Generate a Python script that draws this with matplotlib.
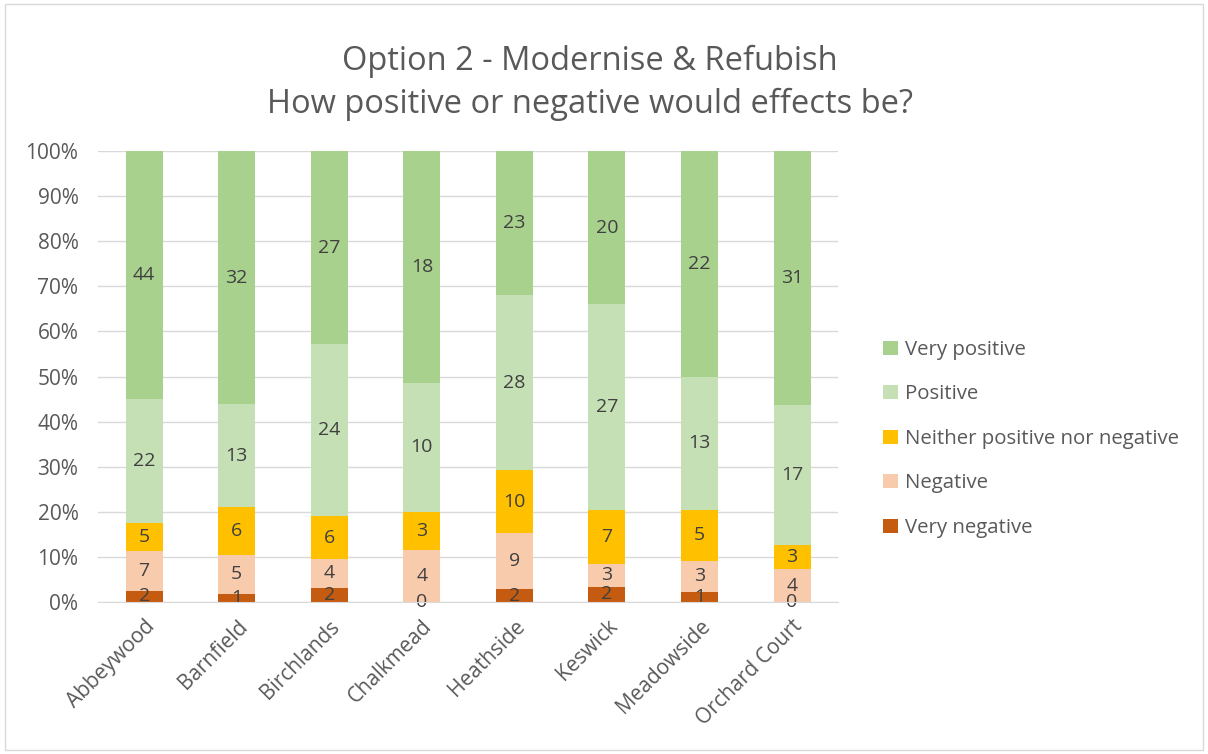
import matplotlib
matplotlib.use('Agg')
import matplotlib.pyplot as plt
import matplotlib.patches as patches
import numpy as np

plt.rcParams['font.family'] = ['Open Sans', 'DejaVu Sans']

sitios = ['Abbeywood', 'Barnfield', 'Birchlands', 'Chalkmead',
          'Heathside', 'Keswick', 'Meadowside', 'Orchard Court']
categorias = ['Very negative', 'Negative', 'Neither positive nor negative',
              'Positive', 'Very positive']
muy_negativo = [2, 1, 2, 0, 2, 2, 1, 0]
negativo = [7, 5, 4, 4, 9, 3, 3, 4]
neutral = [5, 6, 6, 3, 10, 7, 5, 3]
positivo = [22, 13, 24, 10, 28, 27, 13, 17]
muy_positivo = [44, 32, 27, 18, 23, 20, 22, 31]
colores = ['#C55A11', '#F8CBAD', '#FFC000', '#C5E0B4', '#A9D18E']

texto = '#595959'
series = np.array([muy_negativo, negativo, neutral, positivo, muy_positivo], dtype=float)
totales = series.sum(axis=0)
porcentajes = series / totales * 100

fig = plt.figure(figsize=(12.08, 7.54), dpi=100)
fig.patches.append(patches.Rectangle((0.004, 0.005), 0.992, 0.99, transform=fig.transFigure,
                                     fill=False, edgecolor='#D9D9D9', linewidth=1))
ax = fig.add_axes([0.081, 0.2016, 0.613, 0.598])

x = np.arange(len(sitios))
base = np.zeros(len(sitios))
for i, cat in enumerate(categorias):
    ax.bar(x, porcentajes[i], bottom=base, width=0.4, color=colores[i],
           label=cat, zorder=3)
    for j in range(len(sitios)):
        y = base[j] + porcentajes[i][j] / 2
        ax.text(x[j], y, f'{int(series[i][j])}', ha='center', va='center',
                fontsize=14, color='#404040', zorder=4)
    base += porcentajes[i]

ax.set_xlim(-0.5, len(sitios) - 0.5)
ax.set_ylim(0, 100)
ax.set_yticks(np.arange(0, 101, 10))
ax.set_yticklabels([f'{v}%' for v in range(0, 101, 10)], fontsize=15, color=texto)
ax.set_xticks(x)
ax.set_xticklabels(sitios, rotation=45, ha='right', rotation_mode='anchor',
                   fontsize=15, color=texto)
ax.tick_params(axis='y', length=0, pad=14)
ax.tick_params(axis='x', length=0, pad=10)
ax.yaxis.grid(True, color='#D9D9D9', linewidth=1, zorder=0)
for lado in ['top', 'right', 'left']:
    ax.spines[lado].set_visible(False)
ax.spines['bottom'].set_color('#D9D9D9')
ax.spines['bottom'].set_zorder(5)

handles, labels = ax.get_legend_handles_labels()
fig.legend(handles[::-1], labels[::-1], loc='center left',
           bbox_to_anchor=(0.716, 0.418), frameon=False, fontsize=14.7,
           handlelength=0.7, handleheight=0.7, handletextpad=0.35,
           labelspacing=1.2, labelcolor=texto)

fig.text(0.488, 0.918, 'Option 2 - Modernise & Refubish', ha='center', va='center',
         fontsize=23.5, color=texto)
fig.text(0.488, 0.861, 'How positive or negative would effects be?', ha='center',
         va='center', fontsize=23.5, color=texto)

fig.savefig('out.png', dpi=100)
plt.close(fig)
